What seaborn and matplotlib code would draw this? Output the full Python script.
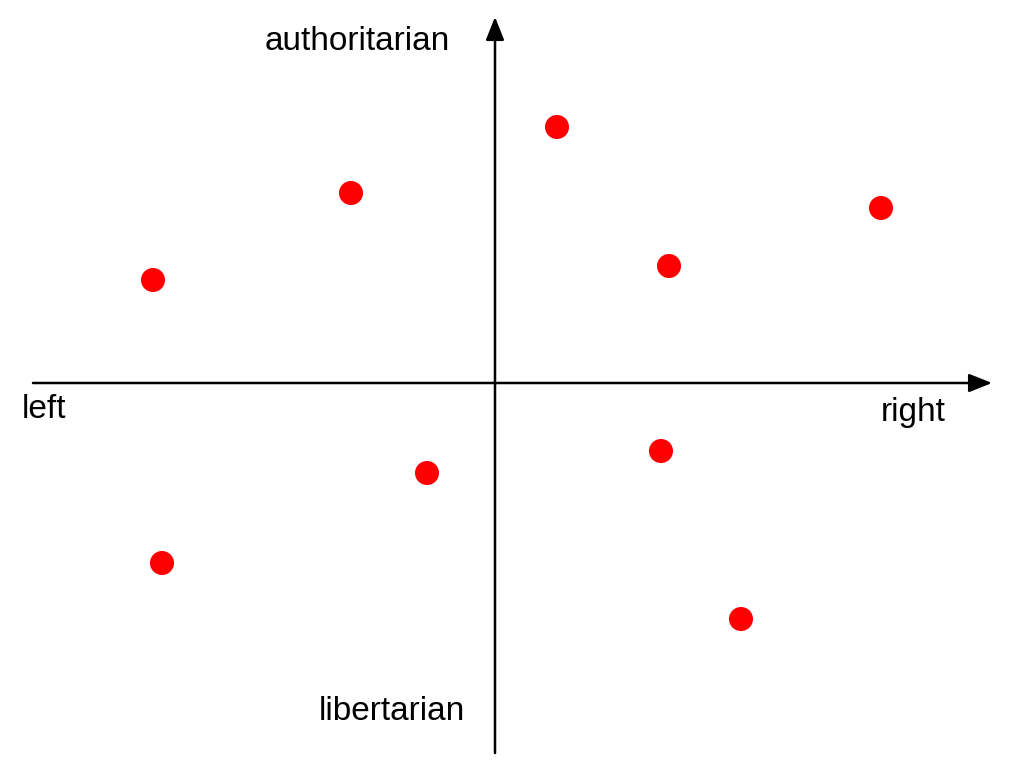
import numpy as np
import pandas as pd
import seaborn as sns
import matplotlib.pyplot as plt

# ------------------- DATA -------------------

# economic axis (left < 0 < right), social axis (libertarian < 0 < authoritarian)
economic = [0.62, -1.44, -3.42, 1.74, 3.86, -0.68, 1.66, -3.33, 2.46]
social = [2.56, 1.90, 1.03, 1.17, 1.75, -0.90, -0.68, -1.80, -2.36]

df = pd.DataFrame({"economic": economic, "social": social})

# ------------------- PLOT -------------------

sns.set_style("white")
plt.rcParams['font.family'] = ['Liberation Sans', 'DejaVu Sans']
plt.rcParams['text.color'] = 'black'

fig = plt.figure(figsize=(10.24, 7.68), dpi=100)
ax = fig.add_axes([0, 0, 1, 1])
ax.set_xlim(-4.95, 5.29)
ax.set_ylim(-3.85, 3.83)
ax.axis("off")

# axes with arrow heads
arrow = dict(arrowstyle="-|>,head_length=1.0,head_width=0.4", color="black", lw=1.8,
             mutation_scale=14, shrinkA=0, shrinkB=0)
ax.annotate("", xy=(4.97, 0), xytext=(-4.62, 0), arrowprops=arrow)
ax.annotate("", xy=(0, 3.66), xytext=(0, -3.70), arrowprops=arrow)

sns.scatterplot(data=df, x="economic", y="social", color="#ff0000", s=300,
                edgecolor="none", ax=ax, zorder=3)

fs = 24
ax.text(-1.38, 3.42, "authoritarian", fontsize=fs, ha="center", va="center")
ax.text(-1.03, -3.28, "libertarian", fontsize=fs, ha="center", va="center")
ax.text(-4.51, -0.26, "left", fontsize=fs, ha="center", va="center")
ax.text(4.18, -0.30, "right", fontsize=fs, ha="center", va="center")

fig.savefig("out.png", dpi=100)
